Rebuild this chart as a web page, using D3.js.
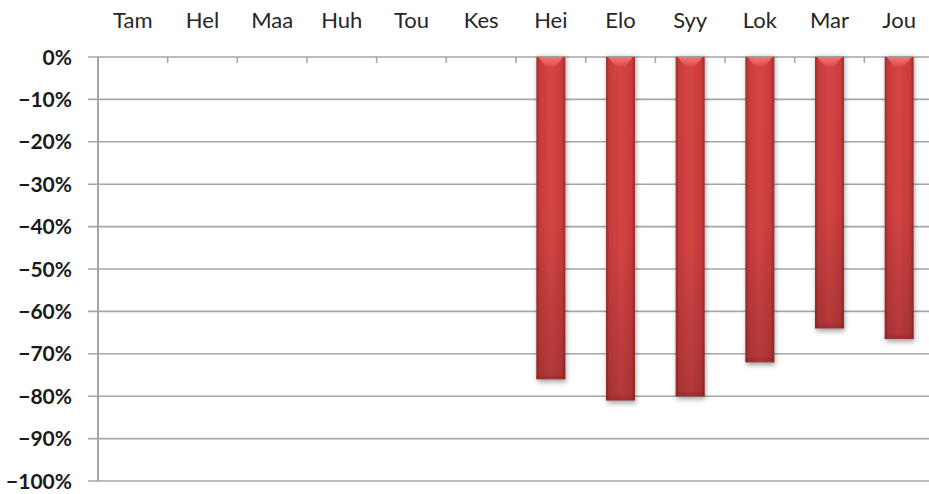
<!DOCTYPE html>
<html>
<head>
<meta charset="utf-8">
<script src="https://cdn.jsdelivr.net/npm/d3@7"></script>
<style>
  html, body { margin: 0; padding: 0; background: #fff; }
  svg { display: block; }
</style>
</head>
<body>
<svg id="chart" width="929" height="494"></svg>
<script>
const categories = ["Tam", "Hel", "Maa", "Huh", "Tou", "Kes", "Hei", "Elo", "Syy", "Lok", "Mar", "Jou"];
const values = [null, null, null, null, null, null, -0.76, -0.81, -0.80, -0.72, -0.64, -0.665];
const yTicks = [0, -0.1, -0.2, -0.3, -0.4, -0.5, -0.6, -0.7, -0.8, -0.9, -1.0];

(function () {
const svg = d3.select("#chart");
const pLeft = 98, pRight = 934, pTop = 57, pBottom = 481;

const x = d3.scaleBand().domain(categories).range([pLeft, pRight]).paddingInner(0.585).paddingOuter(0.2925);
const xCat = d3.scaleBand().domain(categories).range([pLeft, pRight]);
const y = d3.scaleLinear().domain([-1, 0]).range([pBottom, pTop]);

const defs = svg.append("defs");
const hg = defs.append("linearGradient").attr("id", "barH").attr("x1", 0).attr("x2", 1).attr("y1", 0).attr("y2", 0);
hg.append("stop").attr("offset", "0%").attr("stop-color", "#a02a2a");
hg.append("stop").attr("offset", "12%").attr("stop-color", "#c93c3c");
hg.append("stop").attr("offset", "50%").attr("stop-color", "#d64545");
hg.append("stop").attr("offset", "88%").attr("stop-color", "#c93c3c");
hg.append("stop").attr("offset", "100%").attr("stop-color", "#a02a2a");
const vg = defs.append("linearGradient").attr("id", "barV").attr("x1", 0).attr("x2", 0).attr("y1", 0).attr("y2", 1);
vg.append("stop").attr("offset", "0%").attr("stop-color", "#000").attr("stop-opacity", 0);
vg.append("stop").attr("offset", "55%").attr("stop-color", "#000").attr("stop-opacity", 0.02);
vg.append("stop").attr("offset", "100%").attr("stop-color", "#000").attr("stop-opacity", 0.17);
const tg = defs.append("linearGradient").attr("id", "bevel").attr("x1", 0).attr("x2", 0).attr("y1", 0).attr("y2", 1);
tg.append("stop").attr("offset", "0%").attr("stop-color", "#f58080");
tg.append("stop").attr("offset", "100%").attr("stop-color", "#e05050");
const sh = defs.append("filter").attr("id", "shadow").attr("x", "-30%").attr("y", "-10%").attr("width", "160%").attr("height", "130%");
sh.append("feGaussianBlur").attr("stdDeviation", 2.5);

svg.append("g").selectAll("line").data(yTicks).join("line")
  .attr("x1", pLeft - 10).attr("x2", 929)
  .attr("y1", d => y(d)).attr("y2", d => y(d))
  .attr("stroke", "#a6a6a6").attr("stroke-width", 1.6);

svg.append("line").attr("x1", pLeft).attr("x2", pLeft).attr("y1", pTop).attr("y2", pBottom)
  .attr("stroke", "#a6a6a6").attr("stroke-width", 2);

svg.append("g").selectAll("line").data(categories.slice(1)).join("line")
  .attr("x1", d => xCat(d)).attr("x2", d => xCat(d))
  .attr("y1", y(0)).attr("y2", y(0) + 6)
  .attr("stroke", "#a6a6a6").attr("stroke-width", 1.6);

svg.append("g").selectAll("text").data(yTicks).join("text")
  .attr("x", 72).attr("y", d => y(d)).attr("dy", "0.36em")
  .attr("text-anchor", "end")
  .attr("font-family", "Lato, 'Open Sans', sans-serif").attr("font-weight", "bold")
  .attr("font-size", 21).attr("fill", "#1a1a1a")
  .text(d => d3.format(".0%")(d));

svg.append("g").selectAll("text").data(categories).join("text")
  .attr("x", d => xCat(d) + xCat.bandwidth() / 2).attr("y", 28)
  .attr("text-anchor", "middle")
  .attr("font-family", "Lato, 'Open Sans', sans-serif")
  .attr("font-size", 22).attr("fill", "#262626")
  .text(d => d);

const data = categories.map((c, i) => ({ c, v: values[i] })).filter(d => d.v !== null);
const bars = svg.append("g").selectAll("g").data(data).join("g");
bars.append("rect")
  .attr("x", d => x(d.c) + 1).attr("y", y(0))
  .attr("width", x.bandwidth()).attr("height", d => y(d.v) - y(0) + 3)
  .attr("fill", "#000").attr("opacity", 0.35).attr("filter", "url(#shadow)");
bars.append("rect")
  .attr("x", d => x(d.c)).attr("y", y(0))
  .attr("width", x.bandwidth()).attr("height", d => y(d.v) - y(0))
  .attr("fill", "url(#barH)");
bars.append("rect")
  .attr("x", d => x(d.c)).attr("y", y(0))
  .attr("width", x.bandwidth()).attr("height", d => y(d.v) - y(0))
  .attr("fill", "url(#barV)");
bars.append("path")
  .attr("d", d => {
    const x0 = x(d.c), w = x.bandwidth(), y0 = y(0);
    return `M${x0 + 2},${y0} L${x0 + w - 2},${y0} L${x0 + w / 2 + 5},${y0 + 9} L${x0 + w / 2 - 5},${y0 + 9} Z`;
  })
  .attr("fill", "url(#bevel)").attr("opacity", 0.85);
bars.append("rect")
  .attr("x", d => x(d.c)).attr("y", d => y(d.v) - 4)
  .attr("width", x.bandwidth()).attr("height", 4)
  .attr("fill", "#8a2020").attr("opacity", 0.3);
})();
</script>
</body>
</html>
